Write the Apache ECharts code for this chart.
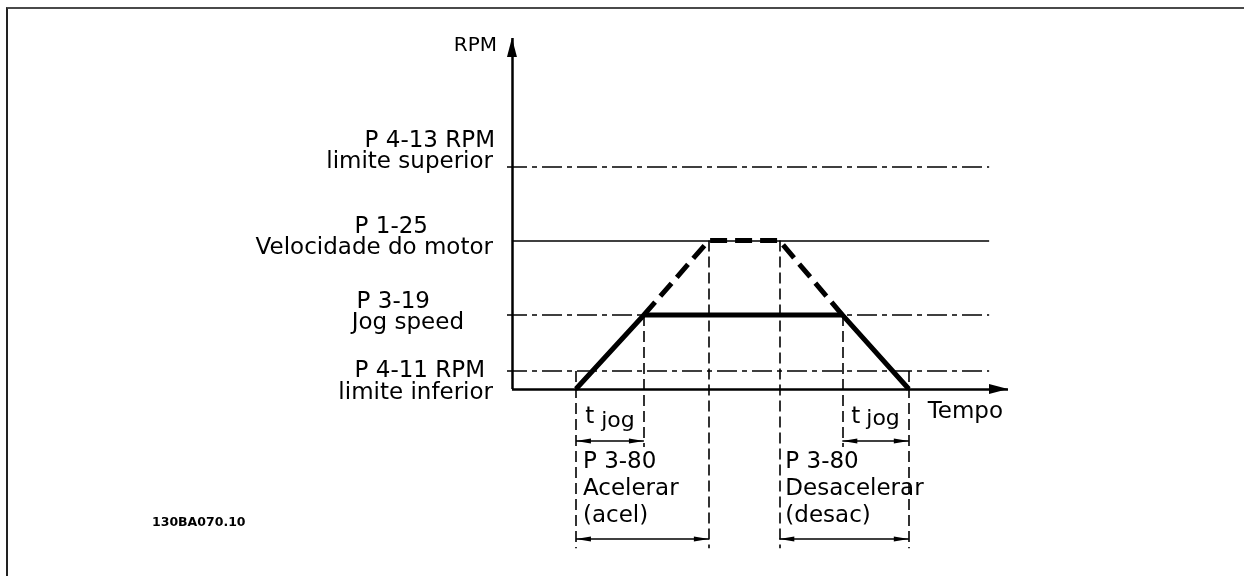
<!DOCTYPE html>
<html>
<head>
<meta charset="utf-8">
<script src="https://cdn.jsdelivr.net/npm/echarts@6.0.0/dist/echarts.min.js"></script>
<style>
html,body{margin:0;padding:0;background:#fff;}
#chart{position:absolute;left:0;top:0;width:1244px;height:576px;}
#frame{position:absolute;left:6px;top:7px;right:0;bottom:0;border-top:2px solid #4a4a4a;border-left:2px solid #222;pointer-events:none;}
</style>
</head>
<body>
<div id="chart"></div>
<div id="frame"></div>
<script>
// ---------------- data ----------------
// time instants (arbitrary time units): start, jog reached, motor speed reached,
// decel from motor speed, decel from jog, stop
const timeNames = ['início', 'jog atingido', 'velocidade atingida', 'início desac', 'desac jog', 'parada'];
const timePoints = [1.29, 2.66, 3.97, 5.39, 6.66, 8.0];

// speed levels (arbitrary RPM units)
const levelTitles = ['P 4-13 RPM', 'P 1-25', 'P 3-19', 'P 4-11 RPM'];
const levelSubtitles = ['limite superior', 'Velocidade do motor', 'Jog speed', 'limite inferior'];
const levelValues = [63.4, 42.3, 21.1, 5.1];

// jog profile (solid) and motor-speed profile (dashed)
const jogProfileTimes = [1.29, 2.66, 6.66, 8.0];
const jogProfileSpeeds = [0, 21.1, 21.1, 0];
const motorProfileTimes = [2.66, 3.97, 5.39, 6.66];
const motorProfileSpeeds = [21.1, 42.3, 42.3, 21.1];

// dimension annotations below the time axis
const dimensionLabels = ['t jog', 'P 3-80\nAcelerar\n(acel)', 't jog', 'P 3-80\nDesacelerar\n(desac)'];
const dimensionStarts = [1.29, 1.29, 6.66, 5.39];
const dimensionEnds = [2.66, 3.97, 8.0, 8.0];

// axis names / figure id
const xAxisName = 'Tempo';
const yAxisName = 'RPM';
const figureId = '130BA070.10';

// ---------------- layout ----------------
const X_MIN = -0.1, X_MAX = 10, Y_MIN = -50, Y_MAX = 100;
const LEVEL_LINE_END = 9.62;
const SHORT_ROW = -14.8, LONG_ROW = -42.7, SHORT_EXT = -16.5, LONG_EXT = -45.4;
const FONT = 'DejaVu Sans';
const [UPPER, MOTOR, JOG, LOWER] = levelValues;
const [T0, T1, T2, T3, T4, T5] = timePoints;

const leftLabelLayout = [
  {distance: 12, lh: 21.5, padTitle: 0, padSub: 2, padding: [0, 0, 29.5, 0]},
  {distance: 19, lh: 21.5, padTitle: 65, padSub: 0, padding: [0, 0, 6, 0]},
  {distance: 43, lh: 20.5, padTitle: 34, padSub: 0, padding: [0, 0, 4.5, 0]},
  {distance: 14, lh: 22.5, padTitle: 8, padSub: 0, padding: [21.5, 0, 0, 0]}
];
const dashDot = [20, 5, 5, 5];

const levelLines = levelValues.map((v, i) => {
  const L = leftLabelLayout[i];
  const solid = i === 1;
  return [
    {
      coord: [solid ? 0 : X_MIN, v],
      lineStyle: {type: solid ? 'solid' : dashDot, width: 1.5, color: '#000'},
      label: {
        show: true, position: 'start', distance: L.distance, color: '#000',
        padding: L.padding,
        formatter: '{a|' + levelTitles[i] + '}\n{b|' + levelSubtitles[i] + '}',
        rich: {
          a: {fontFamily: FONT, fontSize: 23, lineHeight: L.lh, align: 'right', color: '#000', padding: [0, L.padTitle, 0, 0]},
          b: {fontFamily: FONT, fontSize: 23, lineHeight: L.lh, align: 'right', color: '#000', padding: [0, L.padSub, 0, 0]}
        }
      }
    },
    {coord: [LEVEL_LINE_END, v]}
  ];
});

const extensionLines = [
  [T0, LOWER, LONG_EXT], [T1, JOG, SHORT_EXT], [T2, MOTOR, LONG_EXT],
  [T3, MOTOR, LONG_EXT], [T4, JOG, SHORT_EXT], [T5, LOWER, LONG_EXT]
].map(d => [{coord: [d[0], d[1]]}, {coord: [d[0], d[2]]}]);

function tjogLabel(shift, gap) {
  return {
    show: true, position: 'middle', distance: 12, color: '#000',
    formatter: '{t|t}{j|jog}',
    rich: {
      t: {fontFamily: FONT, fontSize: 23, lineHeight: 23, color: '#000'},
      j: {fontFamily: FONT, fontSize: 22, lineHeight: 23, color: '#000', padding: [shift * 2, 0, 0, gap]}
    }
  };
}
function longLabel(text, dx) {
  return {
    show: true, position: 'insideStartTop', distance: [dx, 9], color: '#000',
    formatter: text, fontFamily: FONT, fontSize: 23, lineHeight: 27
  };
}
const dimArrow = {symbol: 'triangle', symbolSize: [5, 15], symbolOffset: [0, 7.5]};
function dimPoint(x, y, label) {
  const p = Object.assign({coord: [x, y]}, dimArrow);
  if (label) p.label = label;
  return p;
}
const dimensionLines = [
  [dimPoint(dimensionStarts[0], SHORT_ROW, tjogLabel(4, 7)), dimPoint(dimensionEnds[0], SHORT_ROW)],
  [dimPoint(dimensionStarts[1], LONG_ROW, longLabel(dimensionLabels[1], 7)), dimPoint(dimensionEnds[1], LONG_ROW)],
  [dimPoint(dimensionStarts[2], SHORT_ROW, tjogLabel(2, 6)), dimPoint(dimensionEnds[2], SHORT_ROW)],
  [dimPoint(dimensionStarts[3], LONG_ROW, longLabel(dimensionLabels[3], 6)), dimPoint(dimensionEnds[3], LONG_ROW)]
];

const axisArrow = {symbol: 'triangle', symbolSize: [10, 19], symbolOffset: [0, 9.5]};
const axisLines = [
  [{coord: [0, 0], symbol: 'none'}, Object.assign({coord: [X_MAX, 0]}, axisArrow)],
  [{coord: [0, 0], symbol: 'none'}, Object.assign({coord: [0, Y_MAX]}, axisArrow)]
];

const chart = echarts.init(document.getElementById('chart'), null, {renderer: 'canvas'});
chart.setOption({
  animation: false,
  backgroundColor: 'transparent',
  textStyle: {fontFamily: FONT, color: '#000'},
  title: {
    text: figureId, left: 152, top: 516, padding: 0,
    textStyle: {fontFamily: FONT, fontWeight: 'bold', fontSize: 12.5, color: '#000'}
  },
  grid: {left: 507, right: 236, top: 38, bottom: 11.5, containLabel: false, outerBoundsMode: 'none'},
  xAxis: {
    type: 'value', min: X_MIN, max: X_MAX,
    name: xAxisName, nameLocation: 'end', nameGap: -5, nameMoveOverlap: false,
    nameTextStyle: {fontFamily: FONT, fontSize: 23, lineHeight: 23, color: '#000', align: 'right', verticalAlign: 'top', padding: [12, 0, 0, 0]},
    axisLine: {show: false, onZero: true}, axisTick: {show: false}, axisLabel: {show: false}, splitLine: {show: false}
  },
  yAxis: {
    type: 'value', min: Y_MIN, max: Y_MAX,
    name: yAxisName, nameLocation: 'end', nameGap: -7.5, nameMoveOverlap: false,
    nameTextStyle: {fontFamily: FONT, fontSize: 20, color: '#000', align: 'right', verticalAlign: 'middle', padding: [0, 15, 0, 0]},
    axisLine: {show: false, onZero: true}, axisTick: {show: false}, axisLabel: {show: false}, splitLine: {show: false}
  },
  series: [
    {
      name: 'Limites', type: 'line', data: [], silent: true,
      markLine: {
        silent: true, animation: false, symbol: ['none', 'none'], emphasis: {disabled: true},
        label: {show: false}, data: levelLines
      }
    },
    {
      name: 'Linhas de referência', type: 'line', data: [], silent: true,
      markLine: {
        silent: true, animation: false, symbol: ['none', 'none'], emphasis: {disabled: true},
        label: {show: false},
        lineStyle: {type: [11, 5], width: 1.6, color: '#000'},
        data: extensionLines
      }
    },
    {
      name: 'Tempos', type: 'line', data: [], silent: true,
      markLine: {
        silent: true, animation: false, emphasis: {disabled: true},
        symbol: ['triangle', 'triangle'],
        label: {show: false},
        itemStyle: {color: '#000'},
        lineStyle: {type: 'solid', width: 1.5, color: '#000'},
        data: dimensionLines
      }
    },
    {
      name: 'Eixos', type: 'line', data: [], silent: true,
      markLine: {
        silent: true, animation: false, emphasis: {disabled: true},
        symbol: ['none', 'triangle'],
        label: {show: false},
        itemStyle: {color: '#000'},
        lineStyle: {type: 'solid', width: 2.5, color: '#000'},
        data: axisLines
      }
    },
    {
      name: 'Velocidade do motor', type: 'line', silent: true, showSymbol: false, symbol: 'none',
      z: 6, color: '#000',
      lineStyle: {color: '#000', width: 5, type: [17, 8]},
      data: motorProfileTimes.map((t, i) => [t, motorProfileSpeeds[i]])
    },
    {
      name: 'Jog speed', type: 'line', silent: true, showSymbol: false, symbol: 'none',
      z: 7, color: '#000',
      lineStyle: {color: '#000', width: 5, type: 'solid'},
      data: jogProfileTimes.map((t, i) => [t, jogProfileSpeeds[i]])
    }
  ]
});
</script>
</body>
</html>
